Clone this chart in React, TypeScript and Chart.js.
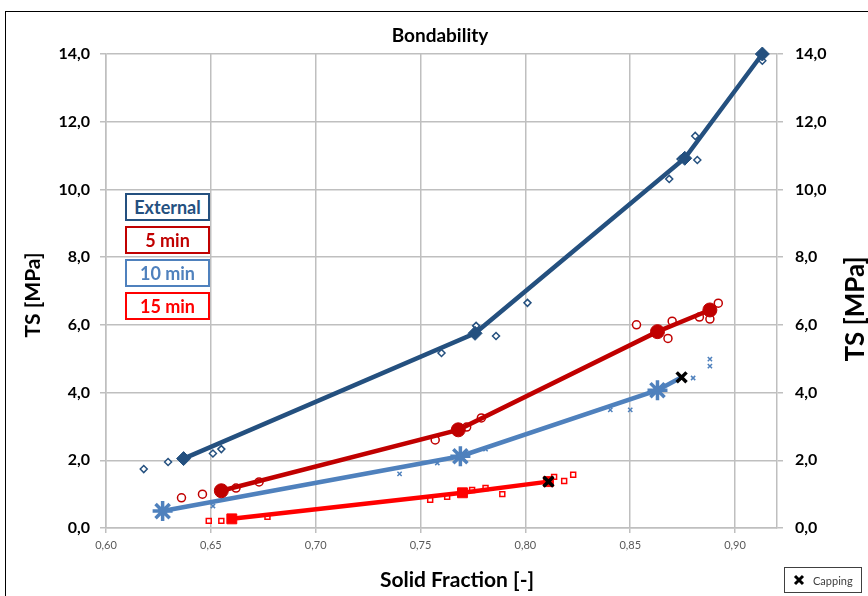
import React, { useEffect, useRef } from "react";
import { Chart, registerables } from "chart.js";

Chart.register(...registerables);

// ---- Data ----
const externalLineX = [0.637, 0.776, 0.876, 0.913];
const externalLineY = [2.05, 5.75, 10.92, 14.0];
const min5LineX = [0.655, 0.768, 0.863, 0.888];
const min5LineY = [1.1, 2.9, 5.8, 6.44];
const min10LineX = [0.627, 0.769, 0.863, 0.8745];
const min10LineY = [0.5, 2.12, 4.07, 4.45];
const min15LineX = [0.66, 0.770, 0.811];
const min15LineY = [0.27, 1.04, 1.37];

const externalPtsX = [0.618, 0.6296, 0.651, 0.655, 0.760, 0.7765, 0.786, 0.801, 0.8686, 0.874, 0.881, 0.882, 0.913];
const externalPtsY = [1.74, 1.95, 2.2, 2.33, 5.17, 5.97, 5.67, 6.65, 10.31, 10.9, 11.58, 10.87, 13.8];
const min5PtsX = [0.636, 0.646, 0.662, 0.673, 0.757, 0.772, 0.779, 0.853, 0.868, 0.870, 0.883, 0.888, 0.892];
const min5PtsY = [0.89, 1.0, 1.18, 1.36, 2.6, 2.98, 3.25, 6.0, 5.6, 6.11, 6.23, 6.17, 6.64];
const min10PtsX = [0.651, 0.74, 0.758, 0.781, 0.8405, 0.850, 0.880, 0.888, 0.888];
const min10PtsY = [0.65, 1.6, 1.92, 2.33, 3.49, 3.49, 4.43, 4.99, 4.78];
const min15PtsX = [0.649, 0.655, 0.677, 0.7546, 0.7627, 0.7746, 0.781, 0.789, 0.8137, 0.8185, 0.8228];
const min15PtsY = [0.21, 0.21, 0.33, 0.83, 0.92, 1.12, 1.18, 1.0, 1.51, 1.39, 1.57];

const cappingX = [0.811, 0.8745];
const cappingY = [1.37, 4.45];

const xTickMin = 0.6;
const xTickMax = 0.92;
const yTickMin = 0;
const yTickMax = 14;

const legendLabels = ["External", "5 min", "10 min", "15 min"];
const COLORS = ["#24507F", "#C00000", "#4F81BD", "#FF0000"];

const pts = (xs: number[], ys: number[]) => xs.map((x, i) => ({ x, y: ys[i] }));

const FONT = "Lato, 'Open Sans', sans-serif";
const GRID = "#BFBFBF";

export default function App() {
  const canvasRef = useRef<HTMLCanvasElement | null>(null);

  useEffect(() => {
    if (!canvasRef.current) return;
    Chart.defaults.font.family = FONT;
    const commaFix = (d: number) => (v: any) => Number(v).toFixed(d).replace(".", ",");

    const chart = new Chart(canvasRef.current, {
      type: "scatter",
      data: {
        datasets: [
          {
            label: "Capping",
            data: pts(cappingX, cappingY),
            pointStyle: "crossRot",
            pointRadius: 7,
            borderColor: "#000",
            borderWidth: 3.5,
            backgroundColor: "#000",
            showLine: false,
            clip: false,
          } as any,
          {
            label: "External",
            data: pts(externalLineX, externalLineY),
            showLine: true,
            borderColor: COLORS[0],
            backgroundColor: COLORS[0],
            borderWidth: 4.5,
            pointStyle: "rectRot",
            pointRadius: 7,
            pointBorderWidth: 1,
            tension: 0,
            clip: false,
          },
          {
            label: "5 min",
            data: pts(min5LineX, min5LineY),
            showLine: true,
            borderColor: COLORS[1],
            backgroundColor: COLORS[1],
            borderWidth: 4.5,
            pointStyle: "circle",
            pointRadius: 7,
            pointBorderWidth: 1,
            tension: 0,
            clip: false,
          },
          {
            label: "10 min",
            data: pts(min10LineX, min10LineY),
            showLine: true,
            borderColor: COLORS[2],
            backgroundColor: COLORS[2],
            borderWidth: 4.5,
            pointStyle: "star",
            pointRadius: [10, 10, 10, 0],
            pointBorderWidth: 3.5,
            tension: 0,
            clip: false,
          },
          {
            label: "15 min",
            data: pts(min15LineX, min15LineY),
            showLine: true,
            borderColor: COLORS[3],
            backgroundColor: COLORS[3],
            borderWidth: 4.5,
            pointStyle: "rect",
            pointRadius: 7,
            pointBorderWidth: 1,
            tension: 0,
            clip: false,
          },
          {
            label: "External pts",
            data: pts(externalPtsX, externalPtsY),
            pointStyle: "rectRot",
            pointRadius: 3.5,
            borderWidth: 1.5,
            borderColor: COLORS[0],
            backgroundColor: "#fff",
            clip: false,
          },
          {
            label: "5 min pts",
            data: pts(min5PtsX, min5PtsY),
            pointStyle: "circle",
            pointRadius: 4,
            borderWidth: 1.5,
            borderColor: COLORS[1],
            backgroundColor: "#fff",
          },
          {
            label: "10 min pts",
            data: pts(min10PtsX, min10PtsY),
            pointStyle: "crossRot",
            pointRadius: 3,
            borderWidth: 1.5,
            borderColor: COLORS[2],
            backgroundColor: COLORS[2],
          },
          {
            label: "15 min pts",
            data: pts(min15PtsX, min15PtsY),
            pointStyle: "rect",
            pointRadius: 3.5,
            borderWidth: 1.5,
            borderColor: COLORS[3],
            backgroundColor: "#fff",
          },
        ],
      },
      options: {
        animation: false,
        responsive: false,
        maintainAspectRatio: false,
        layout: { padding: { top: 54, left: 0, right: 0, bottom: 0 } },
        plugins: {
          legend: { display: false },
          tooltip: { enabled: false },
          title: { display: false },
        },
        scales: {
          x: {
            type: "linear",
            min: xTickMin,
            max: xTickMax,
            afterFit: (s: any) => {
              s.height = 68;
            },
            ticks: {
              stepSize: 0.05,
              includeBounds: false,
              callback: commaFix(2),
              font: { size: 11, family: FONT },
              color: "#595959",
              padding: 6,
              maxRotation: 0,
            },
            grid: { color: GRID, lineWidth: 1.5, tickLength: 5 },
            border: { color: GRID, width: 1.5 },
          },
          y: {
            type: "linear",
            position: "left",
            min: yTickMin,
            max: yTickMax,
            afterFit: (s: any) => {
              s.width = 106;
            },
            ticks: {
              stepSize: 2,
              callback: commaFix(1),
              font: { size: 16, weight: "bold", family: FONT },
              color: "#000",
              padding: 10,
            },
            grid: { color: GRID, lineWidth: 1.5, tickLength: 6 },
            border: { color: GRID, width: 1.5 },
          },
          y2: {
            type: "linear",
            position: "right",
            min: yTickMin,
            max: yTickMax,
            afterFit: (s: any) => {
              s.width = 91;
            },
            ticks: {
              stepSize: 2,
              callback: commaFix(1),
              font: { size: 16, weight: "bold", family: FONT },
              color: "#000",
              padding: 12,
            },
            grid: { drawOnChartArea: false, color: GRID, lineWidth: 1.5, tickLength: 6 },
            border: { color: GRID, width: 1.5 },
          },
        },
      } as any,
    });
    return () => chart.destroy();
  }, []);

  const boxTops = [193, 226, 259, 292];

  return (
    <div
      style={{
        position: "absolute",
        left: 0,
        top: 0,
        width: 868,
        height: 596,
        overflow: "hidden",
        background: "#fff",
        fontFamily: FONT,
      }}
    >
      <canvas ref={canvasRef} width={868} height={596} style={{ position: "absolute", left: 0, top: 0 }} />
      {/* outer frame */}
      <div
        style={{
          position: "absolute",
          left: 5,
          top: 11,
          width: 900,
          height: 700,
          border: "1.5px solid #000",
          pointerEvents: "none",
        }}
      />
      {/* title */}
      <div
        style={{
          position: "absolute",
          left: 340,
          width: 200,
          top: 23,
          textAlign: "center",
          fontWeight: 700,
          fontSize: 19,
          lineHeight: "24px",
          color: "#000",
        }}
      >
        Bondability
      </div>
      {/* x axis title */}
      <div
        style={{
          position: "absolute",
          left: 307,
          width: 300,
          top: 566,
          textAlign: "center",
          fontWeight: 700,
          fontSize: 21,
          lineHeight: "26px",
          color: "#000",
        }}
      >
        Solid Fraction [-]
      </div>
      {/* left y title */}
      <div
        style={{
          position: "absolute",
          left: 32 - 75,
          top: 295 - 13,
          width: 150,
          height: 26,
          lineHeight: "26px",
          textAlign: "center",
          fontWeight: 700,
          fontSize: 21,
          color: "#000",
          transform: "rotate(-90deg)",
        }}
      >
        TS [MPa]
      </div>
      {/* right y title */}
      <div
        style={{
          position: "absolute",
          left: 854 - 75,
          top: 309 - 16,
          width: 150,
          height: 32,
          lineHeight: "32px",
          textAlign: "center",
          fontWeight: 700,
          fontSize: 26,
          color: "#000",
          transform: "rotate(-90deg)",
        }}
      >
        TS [MPa]
      </div>
      {/* legend boxes */}
      {legendLabels.map((lab, i) => (
        <div
          key={lab}
          style={{
            position: "absolute",
            left: 125,
            top: boxTops[i],
            width: 85,
            height: 28,
            boxSizing: "border-box",
            border: `2px solid ${COLORS[i]}`,
            background: "#fff",
            color: COLORS[i],
            fontWeight: 700,
            fontSize: 18,
            lineHeight: "24px",
            textAlign: "center",
          }}
        >
          {lab}
        </div>
      ))}
      {/* capping legend */}
      <div
        style={{
          position: "absolute",
          left: 784,
          top: 567,
          width: 78,
          height: 26,
          boxSizing: "border-box",
          border: "1.5px solid #404040",
          background: "#fff",
          display: "flex",
          alignItems: "center",
          paddingLeft: 8,
          fontSize: 11,
          color: "#404040",
        }}
      >
        <svg width="12" height="12" style={{ marginRight: 8 }}>
          <path d="M2 2 L10 10 M10 2 L2 10" stroke="#000" strokeWidth="3" />
        </svg>
        Capping
      </div>
    </div>
  );
}
